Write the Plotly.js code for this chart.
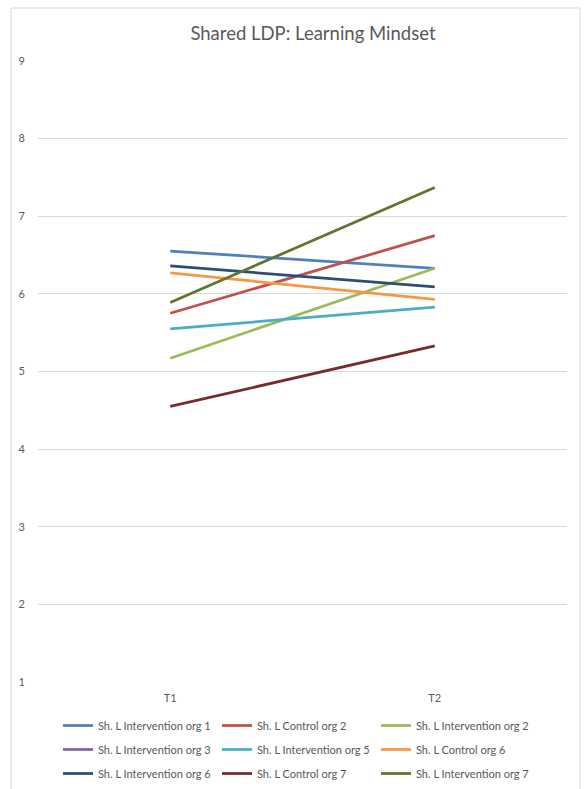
<!DOCTYPE html>
<html>
<head>
<meta charset="utf-8">
<script src="https://cdn.plot.ly/plotly-3.0.1.min.js"></script>
<style>html,body{margin:0;padding:0;background:#fff;}#chart{width:585px;height:789px;}</style>
</head>
<body>
<div id="chart"></div>
<script>
const categories = ["T1", "T2"];
const seriesNames = [
  "Sh. L Intervention org 1", "Sh. L Control org 2", "Sh. L Intervention org 2",
  "Sh. L Intervention org 3", "Sh. L Intervention org 5", "Sh. L Control org 6",
  "Sh. L Intervention org 6", "Sh. L Control org 7", "Sh. L Intervention org 7"
];
const intervOrg1 = [6.55, 6.33];
const controlOrg2 = [5.75, 6.75];
const intervOrg2 = [5.17, 6.33];
const intervOrg3 = [null, null];
const intervOrg5 = [5.55, 5.83];
const controlOrg6 = [6.27, 5.93];
const intervOrg6 = [6.36, 6.09];
const controlOrg7 = [4.55, 5.33];
const intervOrg7 = [5.89, 7.37];
const seriesValues = [intervOrg1, controlOrg2, intervOrg2, intervOrg3, intervOrg5, controlOrg6, intervOrg6, controlOrg7, intervOrg7];
const colors = ["#4F81BD", "#C0504D", "#9BBB59", "#8064A2", "#4BACC6", "#F79646", "#2C4D75", "#772C2A", "#5F7530"];

const font = "Lato, 'Open Sans', sans-serif";
const legendIds = ["legend", "legend2", "legend3"];
const traces = seriesNames.map((n, i) => ({
  type: "scatter", mode: "lines", name: n,
  x: categories, y: seriesValues[i],
  line: {color: colors[i], width: 2.75},
  legend: legendIds[Math.floor(i / 3)],
  hoverinfo: "skip"
}));

function legendRow(y) {
  return {orientation: "h", x: 0.0378, xanchor: "left", y: y, yanchor: "top",
          entrywidth: 114, entrywidthmode: "pixels", itemwidth: 30,
          bgcolor: "rgba(0,0,0,0)",
          font: {family: font, size: 11, color: "#595959"}, traceorder: "normal"};
}

const layout = {
  width: 585, height: 789,
  margin: {l: 38, r: 18, t: 61, b: 107, autoexpand: false},
  paper_bgcolor: "#ffffff", plot_bgcolor: "#ffffff",
  font: {family: font, color: "#595959", size: 11},
  title: {text: "Shared LDP: Learning Mindset", font: {family: font, size: 18.5, color: "#595959"},
          x: 0.535, xanchor: "center", y: 0.958, yanchor: "middle"},
  xaxis: {type: "category", range: [-0.5, 1.5], showgrid: false, zeroline: false, showline: false,
          ticks: "", ticklabelstandoff: 8, tickfont: {size: 11, color: "#595959"}, fixedrange: true},
  yaxis: {range: [1, 9], dtick: 1, tick0: 1, showgrid: true, gridcolor: "#D9D9D9", gridwidth: 1,
          zeroline: false, showline: false, ticks: "", ticklabelstandoff: 12,
          tickfont: {size: 11, color: "#595959"}, fixedrange: true},
  showlegend: true,
  legend: legendRow(-0.0467),
  legend2: legendRow(-0.0853),
  legend3: legendRow(-0.124),
  shapes: [{type: "rect", xref: "paper", yref: "paper", x0: -0.051, x1: 1.0246, y0: -0.3, y1: 1.0853,
            line: {color: "#D9D9D9", width: 1}, fillcolor: "rgba(0,0,0,0)", layer: "below"}]
};
Plotly.newPlot("chart", traces, layout, {displayModeBar: false, staticPlot: true});
</script>
</body>
</html>
